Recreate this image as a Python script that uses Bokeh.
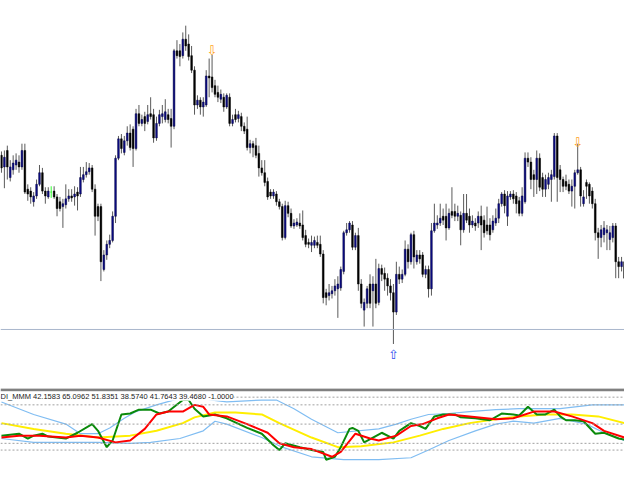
from bokeh.plotting import figure
from bokeh.layouts import column
from bokeh.models import Range1d, Span, Label, ColumnDataSource
from bokeh.core.properties import value
from bokeh.embed import file_html
from bokeh.resources import INLINE

# ---------------- price data (one bar per entry) ----------------
open_ = [240,228,245,217,225,230,233,228,245,205,203,192,198,210,222,203,197,202,203,197,
         192,187,189,195,198,197,202,200,215,220,223,227,205,187,187,122,137,148,152,177,
         237,257,243,255,263,267,247,283,273,280,275,283,282,258,273,280,277,282,278,270,
         348,348,343,360,355,343,328,292,297,290,292,322,321,312,305,298,300,290,300,273,
         282,278,280,270,267,248,252,250,242,227,222,213,202,198,200,192,187,155,188,180,
         167,168,170,168,157,150,147,147,150,148,138,98,95,97,100,102,103,120,160,163,
         168,145,157,107,80,87,107,100,107,88,123,118,113,105,98,78,117,112,117,143,
         130,158,130,137,137,117,122,102,162,168,170,177,177,165,182,182,177,178,163,180,
         177,168,170,170,177,173,168,168,163,170,175,190,200,177,197,200,198,193,180,192,
         237,233,220,215,237,217,205,210,215,218,260,225,215,213,210,203,208,222,225,190,
         212,210,203,190,160,155,158,160,153,155,167,130,125,130]
high = [244,245,250,235,240,242,240,252,252,210,207,202,215,230,227,207,207,208,208,200,
        197,195,210,205,205,208,207,228,228,233,232,230,210,190,190,142,152,158,182,240,
        260,262,260,270,272,270,288,292,282,285,292,300,288,280,287,292,298,288,288,350,
        359,355,367,374,365,353,332,302,300,300,328,340,344,318,312,308,304,304,304,282,
        288,286,284,274,280,256,255,258,250,235,235,217,205,205,203,195,190,193,192,185,
        174,175,180,183,163,154,157,156,157,157,142,102,107,105,112,115,125,162,170,172,
        172,160,165,112,92,105,117,115,133,128,127,124,118,112,107,130,125,122,152,148,
        160,162,142,142,140,126,126,170,190,178,190,185,190,185,207,190,188,182,200,200,
        185,178,175,182,188,178,187,175,178,185,195,202,204,203,203,204,202,197,207,243,
        243,238,225,245,242,222,220,222,225,263,263,230,218,220,215,215,225,252,228,204,
        215,212,207,195,165,168,172,168,167,170,170,135,135,135]
low = [222,206,215,213,220,225,222,225,200,193,190,187,195,208,200,190,195,196,195,177,
       182,165,185,192,192,188,183,197,212,217,220,202,157,172,110,120,132,144,150,170,
       235,242,240,250,245,228,245,270,270,265,272,277,253,255,270,273,274,273,248,267,
       340,332,340,348,338,325,282,288,282,280,290,300,305,300,295,294,285,288,270,270,
       274,274,265,262,245,242,238,237,218,219,208,194,195,195,188,184,152,153,176,165,
       164,166,164,152,145,144,140,144,144,135,87,85,90,92,95,72,100,117,157,160,
       142,142,100,82,63,82,82,63,82,85,110,100,95,90,45,75,107,108,115,123,
       127,123,127,128,114,113,93,95,160,164,167,168,152,163,175,172,172,147,160,170,
       160,165,162,165,142,155,158,152,160,167,170,187,180,167,194,190,180,177,177,190,
       228,205,197,200,203,197,197,205,192,215,192,202,202,204,200,187,185,220,187,187,
       195,190,185,152,133,145,150,142,142,150,113,113,120,110]
close = [227,238,228,228,232,235,228,245,202,200,197,198,210,222,203,198,203,202,197,185,
         185,190,195,198,196,200,198,217,220,223,227,205,177,177,130,137,148,152,177,237,
         257,247,255,263,248,247,283,273,277,273,282,280,258,273,282,283,285,277,270,348,
         343,342,360,353,342,328,292,297,290,295,322,320,310,303,300,303,290,302,273,277,
         277,282,270,265,248,252,248,240,227,222,212,197,198,202,192,187,155,188,180,167,
         170,171,167,155,148,148,150,152,147,138,93,93,98,100,105,107,122,160,163,170,
         145,157,107,87,88,102,87,107,87,123,117,112,105,98,78,117,112,117,143,130,
         158,135,137,133,117,122,102,162,170,170,175,173,165,180,178,177,180,163,180,173,
         168,172,167,177,168,160,162,158,172,175,190,200,188,198,200,195,190,180,198,237,
         233,215,215,237,207,205,215,217,220,260,217,215,208,208,203,208,222,225,198,197,
         208,198,190,160,155,163,165,163,160,167,130,125,130,113]

# signal arrows (bar index, price)
up_arrow_bar = [134]
up_arrow_price = [34]
down_arrow_bar = [72, 197]
down_arrow_price = [348, 253]
h_line_price = 60

# ---------------- indicator data (bar index, value) ----------------
upper_bar = [0, 11, 22, 27, 33, 37, 42, 46, 53, 60, 66, 72, 77, 89, 94, 100, 106, 115, 129, 135,
             140, 146, 153, 160, 169, 177, 191, 202, 213]
upper_val = [73, 60, 50, 40, 40, 46, 56, 63, 70, 76, 78, 75, 73, 75, 75, 66, 55, 41, 45, 50,
             55, 60, 61, 63, 65, 66, 66, 70, 70]
lower_bar = [0, 11, 22, 33, 44, 51, 61, 69, 73, 77, 89, 96, 106, 117, 129, 140, 146, 153, 162, 169,
             175, 182, 191, 200, 206, 213]
lower_val = [35, 31, 31, 31, 30, 31, 35, 43, 53, 50, 36, 26, 16, 13, 13, 15, 23, 33, 43, 50,
             53, 51, 56, 50, 41, 33]
yellow_bar = [0, 11, 22, 33, 44, 53, 62, 66, 73, 80, 89, 95, 106, 115, 123, 134, 143, 151, 160, 169,
              177, 186, 195, 204, 213]
yellow_val = [51, 45, 40, 36, 38, 43, 51, 57, 62, 62, 60, 51, 36, 26, 27, 31, 38, 45, 51, 55,
              58, 60, 60, 58, 51]
red_bar = [0, 6, 13, 22, 27, 33, 39, 44, 49, 53, 57, 62, 66, 69, 71, 77, 84, 91, 95, 100,
           106, 113, 116, 121, 126, 129, 135, 140, 144, 149, 153, 160, 169, 175, 182, 189, 195, 202, 206, 213]
red_val = [36, 38, 38, 36, 38, 36, 31, 33, 45, 60, 63, 63, 70, 68, 60, 58, 50, 41, 30, 26,
           24, 16, 21, 40, 35, 33, 38, 48, 50, 56, 60, 58, 55, 56, 63, 63, 58, 51, 43, 36]
green_bar = [0, 6, 9, 11, 14, 16, 22, 26, 31, 33, 36, 38, 41, 44, 47, 51, 54, 57, 62, 64,
             66, 69, 73, 77, 84, 89, 93, 95, 97, 102, 106, 110, 111, 114, 116, 119, 120, 122, 124, 127,
             130, 134, 136, 140, 143, 145, 148, 151, 155, 157, 162, 167, 171, 175, 177, 180, 183, 186, 189, 191,
             193, 196, 199, 203, 206, 211, 213]
green_val = [38, 40, 35, 38, 40, 37, 35, 41, 50, 43, 26, 33, 60, 61, 65, 65, 61, 63, 75, 75,
             66, 58, 60, 56, 46, 40, 28, 23, 30, 26, 23, 21, 13, 16, 26, 45, 46, 43, 31, 36,
             41, 35, 43, 51, 48, 45, 58, 60, 60, 57, 56, 54, 61, 60, 59, 68, 60, 60, 65, 58,
             54, 54, 53, 40, 41, 35, 34]
levels = [78, 70, 50, 30, 23]
ind_label = "DI_MMM 42.1583 65.0962 51.8351 38.5740 41.7643 39.4680 -1.0000"

# ---------------- build ----------------
n = len(close)
bars = list(range(n))
body_top = [max(o, c) for o, c in zip(open_, close)]
body_bot = [min(o, c) for o, c in zip(open_, close)]
fill = ["#0C0C8A" if c > o else ("#000000" if c < o else "#33FF33") for o, c in zip(open_, close)]
edge = ["#00003C" if c > o else ("#000000" if c < o else "#33FF33") for o, c in zip(open_, close)]
wick = ["#5A5A5A" if c != o else "#33FF33" for o, c in zip(open_, close)]
src = ColumnDataSource(dict(x=bars, h=high, l=low, t=body_top, b=body_bot,
                            fill=fill, edge=edge, wick=wick))

xr = Range1d(-0.33, 213)
W = 624
main = figure(width=W, height=388, x_range=xr, y_range=Range1d(-1, 400),
              output_backend="svg", toolbar_location=None, min_border=0,
              background_fill_color="white", border_fill_color="white")
main.xaxis.visible = False
main.yaxis.visible = False
main.grid.visible = False
main.outline_line_color = None

main.add_layout(Span(location=h_line_price, dimension="width", line_color="#A9B6CC", line_width=1))
main.segment(x0="x", y0="l", x1="x", y1="h", source=src, line_color="wick", line_width=1)
main.vbar(x="x", top="t", bottom="b", width=0.58, source=src, fill_color="fill", line_color="edge", line_width=0.5)

main.text(x=down_arrow_bar, y=down_arrow_price, text=["\u21e9"] * len(down_arrow_bar),
          text_color="#FFA31A", text_font=value("DejaVu Sans"), text_font_size="13px",
          text_align="center", text_baseline="middle")
main.text(x=up_arrow_bar, y=up_arrow_price, text=["\u21e7"] * len(up_arrow_bar),
          text_color="#3050F0", text_font=value("DejaVu Sans"), text_font_size="13px",
          text_align="center", text_baseline="middle")

ind = figure(width=W, height=76, x_range=xr, y_range=Range1d(8, 87),
             output_backend="svg", toolbar_location=None, min_border=0,
             background_fill_color="white", border_fill_color="white")
ind.xaxis.visible = False
ind.yaxis.visible = False
ind.grid.visible = False
ind.outline_line_color = None

for lv in levels:
    ind.add_layout(Span(location=lv, dimension="width", line_color="#A0A0A0",
                        line_width=1, line_dash="2 2"))
ind.add_layout(Span(location=85.6, dimension="width", line_color="#808080", line_width=3))

ind.line(upper_bar, upper_val, line_color="#80BDF2", line_width=1.2)
ind.line(lower_bar, lower_val, line_color="#80BDF2", line_width=1.2)
ind.line(yellow_bar, yellow_val, line_color="#FFEE00", line_width=2)
ind.line(green_bar, green_val, line_color="#0A8A0A", line_width=2)
ind.line(red_bar, red_val, line_color="#FF0000", line_width=2)

ind.add_layout(Label(x=-0.33, y=83.5, text=ind_label, text_font="Liberation Sans",
                     text_font_size="7.5px", text_color="#222222", text_baseline="top",
                     background_fill_color="white", x_offset=0))

layout = column(main, ind, spacing=0)
open("out.html", "w").write(file_html(layout, INLINE))
